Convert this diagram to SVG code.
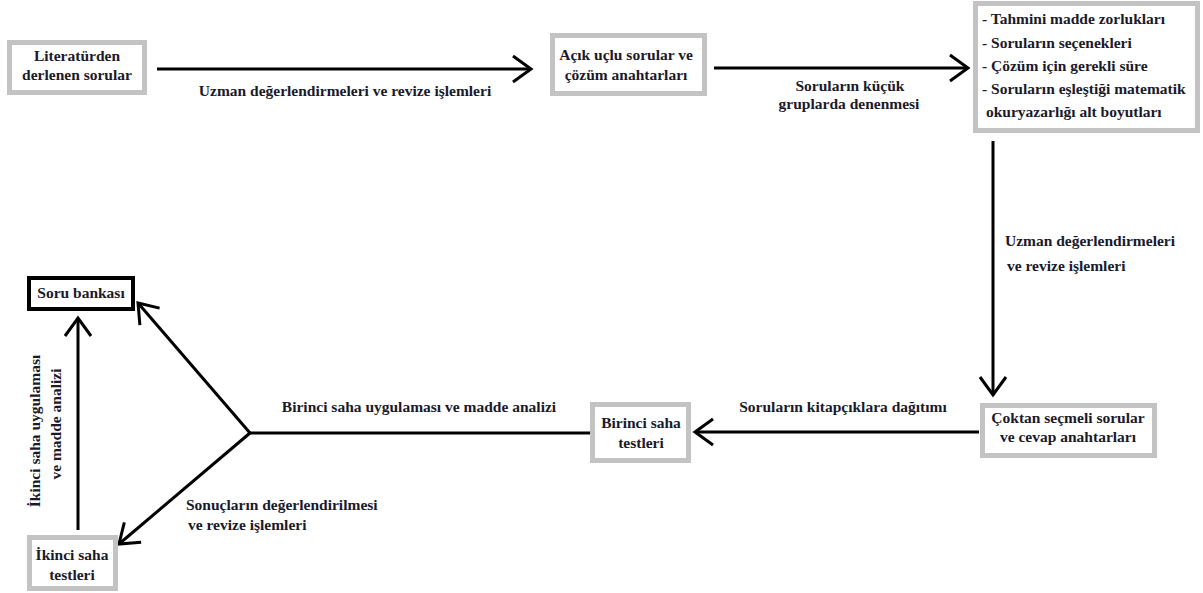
<svg xmlns="http://www.w3.org/2000/svg" width="1203" height="593" viewBox="0 0 1203 593" font-family="Liberation Serif, DejaVu Serif, serif" font-weight="bold" font-size="15.5">
<style>
.box{fill:#fff;stroke:#c3c3c3;stroke-width:5}
.bank{fill:#fff;stroke:#000;stroke-width:4}
text{fill:#1a1a2a}
.c{text-anchor:middle}
.ln{stroke:#000;stroke-width:3;fill:none}
</style>
<defs>
<marker id="ah" viewBox="-22 -16 24 32" refX="0" refY="0" markerWidth="24" markerHeight="32" markerUnits="userSpaceOnUse" orient="auto" overflow="visible">
<path d="M-18,-13 L0,0 L-18,13" fill="none" stroke="#000" stroke-width="3"/>
</marker>
</defs>
<rect width="1203" height="593" fill="#fff"/>
<g id="connectors">
<line class="ln" x1="157" y1="69" x2="531" y2="69" marker-end="url(#ah)"/>
<line class="ln" x1="714" y1="68" x2="968" y2="68" marker-end="url(#ah)"/>
<line class="ln" x1="993" y1="141" x2="993" y2="395" marker-end="url(#ah)"/>
<line class="ln" x1="979" y1="432" x2="695" y2="432" marker-end="url(#ah)"/>
<line class="ln" x1="591" y1="433" x2="250" y2="433"/>
<line class="ln" x1="250" y1="433" x2="138" y2="303" marker-end="url(#ah)"/>
<line class="ln" x1="250" y1="433" x2="119" y2="544" marker-end="url(#ah)"/>
<line class="ln" x1="78" y1="530" x2="78" y2="318" marker-end="url(#ah)"/>
<text class="c" x="345" y="96">Uzman değerlendirmeleri ve revize işlemleri</text>
<text class="c" x="850" y="91">Soruların küçük</text>
<text class="c" x="849" y="109">gruplarda denenmesi</text>
<text x="1005" y="246">Uzman değerlendirmeleri</text>
<text x="1007" y="271">ve revize işlemleri</text>
<text class="c" x="843" y="412">Soruların kitapçıklara dağıtımı</text>
<text class="c" x="419" y="412">Birinci saha uygulaması ve madde analizi</text>
<text x="186" y="510">Sonuçların değerlendirilmesi</text>
<text x="188" y="530">ve revize işlemleri</text>
<text class="c" transform="translate(40,431) rotate(-90)">İkinci saha uygulaması</text>
<text class="c" transform="translate(61,424) rotate(-90)">ve madde analizi</text>
</g>
<g id="n1">
<rect class="box" x="9.5" y="42.5" width="135" height="50"/>
<text class="c" x="77" y="61">Literatürden</text>
<text class="c" x="77" y="80">derlenen sorular</text>
</g>
<g id="n2">
<rect class="box" x="552.5" y="35.5" width="152" height="58"/>
<text class="c" x="626" y="60">Açık uçlu sorular ve</text>
<text class="c" x="626" y="80">çözüm anahtarları</text>
</g>
<g id="n3">
<rect class="box" x="975.5" y="3.5" width="222" height="127"/>
<text x="982" y="24">- Tahmini madde zorlukları</text>
<text x="982" y="48">- Soruların seçenekleri</text>
<text x="982" y="71">- Çözüm için gerekli süre</text>
<text x="982" y="94">- Soruların eşleştiği matematik</text>
<text x="986" y="117">okuryazarlığı alt boyutları</text>
</g>
<g id="n4">
<rect class="box" x="982.5" y="405.5" width="172" height="50"/>
<text class="c" x="1068" y="423">Çoktan seçmeli sorular</text>
<text class="c" x="1068" y="442">ve cevap anahtarları</text>
</g>
<g id="n5">
<rect class="box" x="592.5" y="404.5" width="96" height="56"/>
<text class="c" x="641" y="428">Birinci saha</text>
<text class="c" x="641" y="448">testleri</text>
</g>
<g id="n6">
<rect class="bank" x="29" y="278" width="104" height="31"/>
<text class="c" x="81" y="298">Soru bankası</text>
</g>
<g id="n7">
<rect class="box" x="29.5" y="537.5" width="86" height="51"/>
<text class="c" x="72" y="560">İkinci saha</text>
<text class="c" x="72" y="580">testleri</text>
</g>
</svg>
